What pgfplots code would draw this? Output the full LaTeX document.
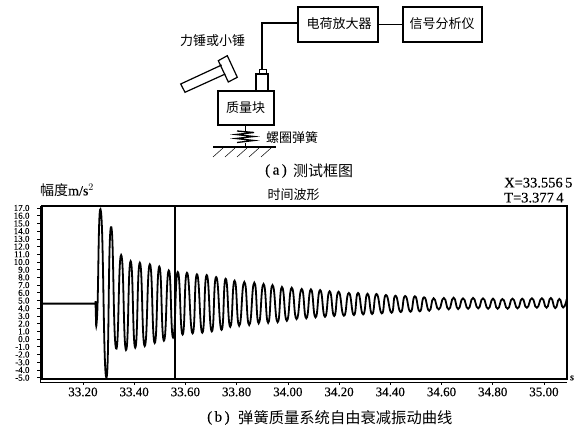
\documentclass[border=0pt]{standalone}
\usepackage{fontspec}
\usepackage{pgfplots}
\pgfplotsset{compat=1.18}
\setmainfont{Liberation Serif}[BoldFont={Liberation Serif},BoldFeatures={FakeBold=0.25}]
\newfontfamily\cjk{Noto Sans CJK SC}
\newcommand{\fs}[1]{\fontsize{#1}{#1}\selectfont}

\pgfplotstableread{
t y
33.040 4.6
33.150 4.6
33.240 4.6
33.248 4.6
33.255 2.9
33.270 16.6
33.291 -5.0
33.309 14.5
33.329 -1.2
33.349 10.9
33.368 -1.4
33.386 10.1
33.404 -1.1
33.422 9.9
33.441 -0.9
33.461 9.7
33.480 -0.5
33.498 9.4
33.516 -0.2
33.535 8.9
33.552 0.2
33.570 8.7
33.589 0.6
33.606 8.6
33.628 0.75
33.645 8.4
33.666 0.83
33.683 8.3
33.703 1.0
33.720 8.05
33.741 1.2
33.757 7.83
33.775 1.6
33.792 7.57
33.810 1.73
33.830 7.4
33.849 1.83
33.869 7.31
33.886 2.05
33.905 7.14
33.923 2.12
33.940 7.0
33.960 2.2
33.977 6.75
33.996 2.38
34.015 6.66
34.034 2.6
34.054 6.5
34.072 2.7
34.090 6.45
34.108 2.82
34.126 6.36
34.145 2.9
34.163 6.2
34.181 3.0
34.198 6.14
34.219 3.03
34.238 5.98
34.258 3.12
34.274 5.98
34.294 3.21
34.311 5.88
34.329 3.25
34.346 5.85
34.367 3.34
34.383 5.72
34.405 3.42
34.420 5.63
34.441 3.51
34.458 5.59
34.479 3.55
34.496 5.55
34.515 3.6
34.532 5.42
34.552 3.68
34.569 5.29
34.589 3.86
34.609 5.33
34.628 3.86
34.647 5.37
34.665 3.9
34.684 5.29
34.704 3.94
34.723 5.33
34.743 3.99
34.762 5.29
34.782 3.94
34.801 5.24
34.819 3.94
34.838 5.2
34.858 3.94
34.877 5.24
34.897 3.99
34.915 5.24
34.933 4.07
34.953 5.29
34.972 4.07
34.992 5.29
35.010 4.07
35.027 5.33
35.044 4.03
35.060 5.2
35.075 4.1
35.089 5.2
}\wavetable

\begin{document}
\begin{tikzpicture}
\path[use as bounding box] (0,0) rectangle (583pt,430pt);

% time trace
\begin{axis}[
  at={(42pt,51pt)},
  anchor=south west,
  scale only axis,
  width=525pt,
  height=173pt,
  xmin=33.04, xmax=35.09,
  ymin=-5.17, ymax=17.26,
  xtick={33.2,33.4,33.6,33.8,34.0,34.2,34.4,34.6,34.8,35.0},
  ytick={-5,-4,...,17},
  tick align=outside,
  xtick pos=bottom,
  ytick pos=left,
  major tick length=3pt,
  xtick style={black,line width=0.7pt,yshift=-3pt},
  ytick style={black,line width=0.7pt,xshift=-1.5pt},
  axis line style={line width=1.5pt},
  /pgf/number format/assume math mode=true,
  /pgf/number format/.cd,fixed,fixed zerofill,1000 sep={},
  /pgfplots/.cd,
  xticklabel style={font=\bfseries\fs{13},/pgf/number format/precision=2,yshift=-2pt},
  yticklabel style={font=\bfseries\fs{9},inner ysep=0pt,/pgf/number format/precision=1,xshift=-6pt},
  clip=true,
]
\addplot[black,line width=1.8pt,smooth,tension=1] table[x=t,y=y] {\wavetable};
\addplot[black,line width=1.2pt] coordinates {(33.559,-5.17) (33.559,17.26)};
\end{axis}

% everything below uses picture pixels, y going down
\begin{scope}[shift={(0,430pt)},x=1pt,y=-1pt]
  % second axis lines beside the frame
  \draw[line width=0.8pt] (40.5,206) -- (40.5,382) -- (567,382);

  % block diagram
  \begin{scope}[line width=1.2pt]
    \draw (298,7) rectangle (378,42);
    \draw (403,7) rectangle (482,42);
    \draw (378,24.5) -- (403,24.5);
    \draw (298,23) -- (262,23) -- (262,69);
    \draw[line width=0.8pt] (259,69) rectangle (266,74);
    \draw (256,74) rectangle (268,90.5);
    \draw (218,91) rectangle (274,125);
    \draw (218.3,60.7) -- (227.3,55.7) -- (237.3,77.3) -- (228.3,82) -- cycle;
    \draw (221.7,65) -- (180.7,84) -- (185,92.3) -- (225.3,74);
    \draw[line width=0.9pt] (245,125) -- (245,131);
    \draw[line width=0.9pt] (245,143) -- (245,147);
    \draw[line width=1.3pt] (237,131) -- (254,132.5) -- (236,134.5) -- (254,136.5) -- (236,138.5) -- (254,140.5) -- (237,142.5);
    \draw (213,147) -- (276,147);
  \end{scope}
  \foreach \x in {213,225,237,249,261}
    \draw[line width=0.5pt] (\x,157) -- (\x+10,148);

  \node[font=\cjk\fs{13}] at (339,24) {电荷放大器};
  \node[font=\cjk\fs{13}] at (442,24) {信号分析仪};
  \node[font=\cjk\fs{13}] at (212.5,41) {力锤或小锤};
  \node[font=\cjk\fs{13}] at (245.5,108) {质量块};
  \node[font=\cjk\fs{13}] at (292,138) {螺圈弹簧};
  \node[font=\bfseries\fs{15},anchor=west,inner sep=0pt] at (265,171) {(\,a\,)};
  \node[font=\cjk\fs{15},anchor=west,inner sep=0pt] at (293,171) {测试框图};

  % labels of the time trace
  \node[font=\bfseries\fs{14},anchor=west,inner sep=0pt] at (40,190) {{\cjk\mdseries\fs{14}幅度}m/s$^{2}$};
  \node[font=\cjk\fs{13}] at (293.5,195) {时间波形};
  \node[font=\bfseries\fs{14.5},anchor=west,inner sep=0pt] at (504,182.7) {X=33.556\,5};
  \node[font=\bfseries\fs{14.5},anchor=west,inner sep=0pt] at (504,197.7) {T=3.377\,4};
  \node[font=\bfseries\fs{10}] at (572,378) {s};
  \node[font=\bfseries\fs{15},anchor=west,inner sep=0pt] at (207,418) {(\,b\,)};
  \node[font=\cjk\fs{15.3},anchor=west,inner sep=0pt] at (238,418) {弹簧质量系统自由衰减振动曲线};
\end{scope}
\end{tikzpicture}
\end{document}
